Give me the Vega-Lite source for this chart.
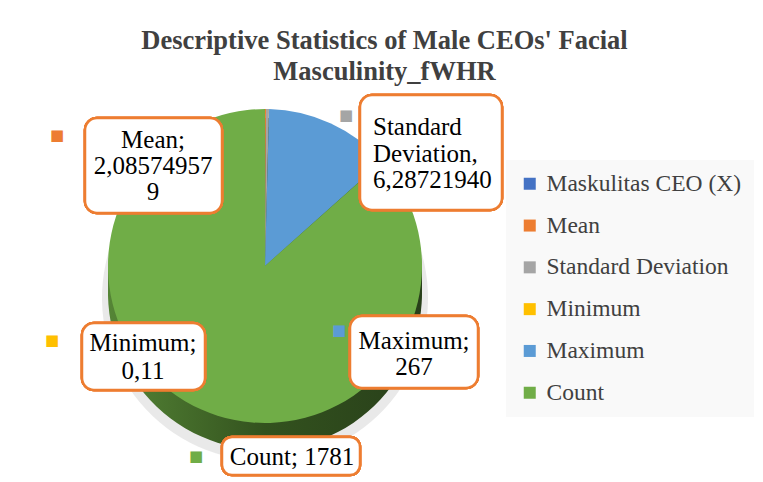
{
  "$schema": "https://vega.github.io/schema/vega-lite/v6.json",
  "width": 500,
  "height": 342,
  "autosize": "none",
  "padding": {"left": 15, "top": 95, "right": 248, "bottom": 45},
  "background": "white",
  "config": {"view": {"stroke": null}},
  "title": {
    "text": ["Descriptive Statistics of Male CEOs' Facial", "Masculinity_fWHR"],
    "font": "Liberation Serif",
    "fontSize": 26.5,
    "fontWeight": "bold",
    "color": "#404040",
    "anchor": "middle",
    "frame": "bounds",
    "offset": 8,
    "lineHeight": 31
  },
  "data": {
    "values": [
      {"key": "Maskulitas CEO (X)", "value": null, "idx": 0, "label": ""},
      {"key": "Mean", "value": 2.085749579, "idx": 1, "label": "Mean;\n2,08574957\n9"},
      {"key": "Standard Deviation", "value": 6.2872194, "idx": 2, "label": "Standard\nDeviation,\n6,28721940"},
      {"key": "Minimum", "value": 0.11, "idx": 3, "label": "Minimum;\n0,11"},
      {"key": "Maximum", "value": 267, "idx": 4, "label": "Maximum;\n267"},
      {"key": "Count", "value": 1781, "idx": 5, "label": "Count; 1781"}
    ]
  },
  "layer": [
    {
      "mark": {"type": "arc", "outerRadius": 163, "yOffset": 32, "color": "#c8c8c8", "opacity": 0.4},
      "encoding": {
        "theta": {"field": "value", "type": "quantitative", "stack": true},
        "order": {"field": "idx", "type": "quantitative"}
      }
    },
    {
      "mark": {"type": "arc", "outerRadius": 157, "yOffset": 9, "color": {"gradient": "linear", "x1": 0, "y1": 0, "x2": 1, "y2": 0, "stops": [{"offset": 0, "color": "#558536"}, {"offset": 0.5, "color": "#33521e"}, {"offset": 1, "color": "#283f1a"}]}},
      "encoding": {
        "theta": {"field": "value", "type": "quantitative", "stack": true},
        "order": {"field": "idx", "type": "quantitative"}
      }
    },
    {
      "mark": {"type": "arc", "outerRadius": 157, "yOffset": 18, "color": {"gradient": "linear", "x1": 0, "y1": 0, "x2": 1, "y2": 0, "stops": [{"offset": 0, "color": "#558536"}, {"offset": 0.5, "color": "#33521e"}, {"offset": 1, "color": "#283f1a"}]}},
      "encoding": {
        "theta": {"field": "value", "type": "quantitative", "stack": true},
        "order": {"field": "idx", "type": "quantitative"}
      }
    },
    {
      "mark": {"type": "arc", "outerRadius": 157, "yOffset": 27, "color": {"gradient": "linear", "x1": 0, "y1": 0, "x2": 1, "y2": 0, "stops": [{"offset": 0, "color": "#558536"}, {"offset": 0.5, "color": "#33521e"}, {"offset": 1, "color": "#283f1a"}]}},
      "encoding": {
        "theta": {"field": "value", "type": "quantitative", "stack": true},
        "order": {"field": "idx", "type": "quantitative"}
      }
    },
    {
      "mark": {"type": "arc", "outerRadius": 157},
      "encoding": {
        "theta": {"field": "value", "type": "quantitative", "stack": true},
        "order": {"field": "idx", "type": "quantitative"},
        "color": {
          "field": "key",
          "type": "nominal",
          "scale": {
            "domain": ["Maskulitas CEO (X)", "Mean", "Standard Deviation", "Minimum", "Maximum", "Count"],
            "range": ["#4472C4", "#ED7D31", "#A5A5A5", "#FFC000", "#5B9BD5", "#70AD47"]
          },
          "legend": {
            "orient": "none",
            "legendX": 491,
            "legendY": 65,
            "title": null,
            "symbolType": "square",
            "symbolSize": 144,
            "symbolStrokeWidth": 0,
            "labelFont": "Liberation Serif",
            "labelFontSize": 23.5,
            "labelColor": "#404040",
            "labelOffset": 5,
            "labelLimit": 300,
            "fillColor": "#f9f9f9",
            "padding": 12,
            "rowPadding": 16.8
          }
        }
      }
    },
    {
      "mark": {"type": "rect", "width": 137, "height": 95, "xOffset": -361.5, "yOffset": 70.5, "fill": "white", "stroke": "#ED7D31", "strokeWidth": 2.5, "cornerRadius": 12},
      "encoding": {}
    },
    {
      "mark": {"type": "rect", "width": 142, "height": 115, "xOffset": -84, "yOffset": 57.5, "fill": "white", "stroke": "#ED7D31", "strokeWidth": 2.5, "cornerRadius": 12},
      "encoding": {}
    },
    {
      "mark": {"type": "rect", "width": 123, "height": 67, "xOffset": -371.5, "yOffset": 261.5, "fill": "white", "stroke": "#ED7D31", "strokeWidth": 2.5, "cornerRadius": 12},
      "encoding": {}
    },
    {
      "mark": {"type": "rect", "width": 128, "height": 72, "xOffset": -101, "yOffset": 257, "fill": "white", "stroke": "#ED7D31", "strokeWidth": 2.5, "cornerRadius": 12},
      "encoding": {}
    },
    {
      "mark": {"type": "rect", "width": 138, "height": 38, "xOffset": -224, "yOffset": 361, "fill": "white", "stroke": "#ED7D31", "strokeWidth": 2.5, "cornerRadius": 10},
      "encoding": {}
    },
    {
      "transform": [{"filter": "datum.key == 'Mean'"}],
      "mark": {"type": "text", "font": "Liberation Serif", "fontSize": 25, "color": "#000000", "align": "center", "baseline": "middle", "lineBreak": "\n", "lineHeight": 26, "dx": -112, "dy": -126},
      "encoding": {"text": {"field": "label"}}
    },
    {
      "transform": [{"filter": "datum.key == 'Standard Deviation'"}],
      "mark": {"type": "text", "font": "Liberation Serif", "fontSize": 25, "color": "#000000", "align": "left", "baseline": "middle", "lineBreak": "\n", "lineHeight": 26.5, "dx": 108, "dy": -139},
      "encoding": {"text": {"field": "label"}}
    },
    {
      "transform": [{"filter": "datum.key == 'Minimum'"}],
      "mark": {"type": "text", "font": "Liberation Serif", "fontSize": 25, "color": "#000000", "align": "center", "baseline": "middle", "lineBreak": "\n", "lineHeight": 28, "dx": -122, "dy": 77},
      "encoding": {"text": {"field": "label"}}
    },
    {
      "transform": [{"filter": "datum.key == 'Maximum'"}],
      "mark": {"type": "text", "font": "Liberation Serif", "fontSize": 25, "color": "#000000", "align": "center", "baseline": "middle", "lineBreak": "\n", "lineHeight": 26, "dx": 149, "dy": 75},
      "encoding": {"text": {"field": "label"}}
    },
    {
      "transform": [{"filter": "datum.key == 'Count'"}],
      "mark": {"type": "text", "font": "Liberation Serif", "fontSize": 25, "color": "#000000", "align": "center", "baseline": "middle", "dx": 27, "dy": 191},
      "encoding": {"text": {"field": "label"}}
    },
    {
      "transform": [{"filter": "datum.key == 'Mean'"}],
      "mark": {"type": "text", "text": "■", "font": "DejaVu Sans", "fontSize": 15, "baseline": "middle", "dx": -208, "dy": -131},
      "encoding": {"color": {"field": "key", "type": "nominal", "legend": null}}
    },
    {
      "transform": [{"filter": "datum.key == 'Standard Deviation'"}],
      "mark": {"type": "text", "text": "■", "font": "DejaVu Sans", "fontSize": 15, "baseline": "middle", "dx": 81, "dy": -151},
      "encoding": {"color": {"field": "key", "type": "nominal", "legend": null}}
    },
    {
      "transform": [{"filter": "datum.key == 'Minimum'"}],
      "mark": {"type": "text", "text": "■", "font": "DejaVu Sans", "fontSize": 15, "baseline": "middle", "dx": -213, "dy": 74},
      "encoding": {"color": {"field": "key", "type": "nominal", "legend": null}}
    },
    {
      "transform": [{"filter": "datum.key == 'Maximum'"}],
      "mark": {"type": "text", "text": "■", "font": "DejaVu Sans", "fontSize": 15, "baseline": "middle", "dx": 74, "dy": 64},
      "encoding": {"color": {"field": "key", "type": "nominal", "legend": null}}
    },
    {
      "transform": [{"filter": "datum.key == 'Count'"}],
      "mark": {"type": "text", "text": "■", "font": "DejaVu Sans", "fontSize": 15, "baseline": "middle", "dx": -69, "dy": 190},
      "encoding": {"color": {"field": "key", "type": "nominal", "legend": null}}
    }
  ]
}
